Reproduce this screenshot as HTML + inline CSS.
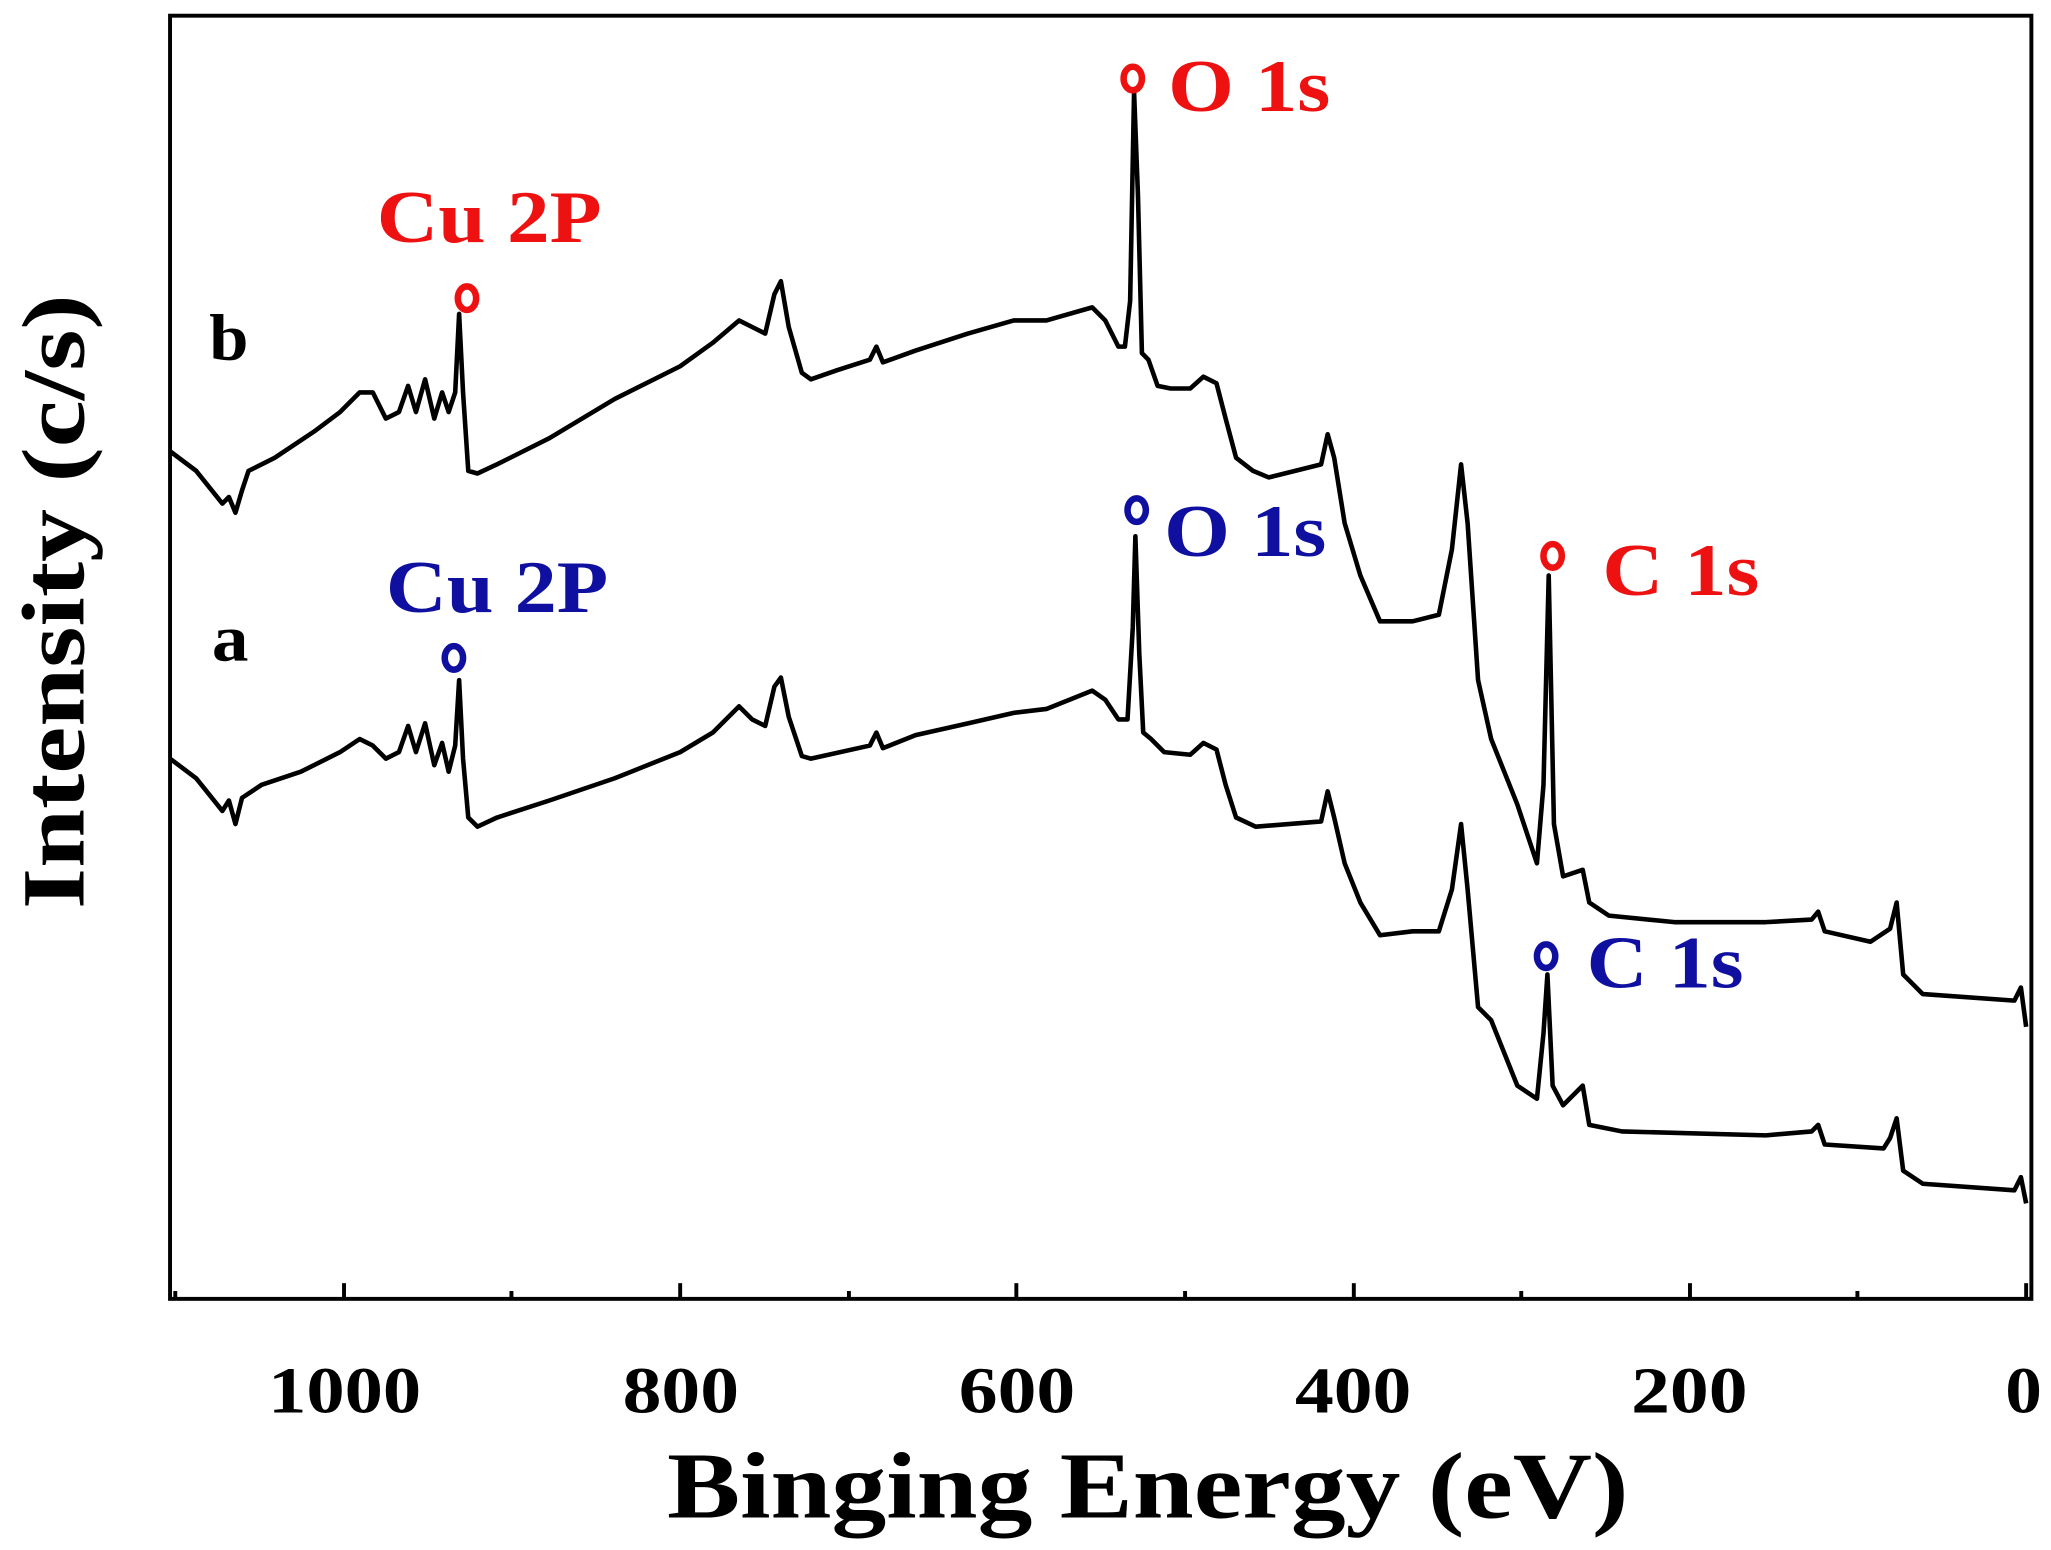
<!DOCTYPE html>
<html><head><style>html,body{margin:0;padding:0;background:#fff;}svg{display:block}</style></head>
<body>
<svg width="2051" height="1550" viewBox="0 0 1568 1185" preserveAspectRatio="none" xmlns="http://www.w3.org/2000/svg" font-family="'Liberation Serif',serif" font-weight="bold">
<rect x="130" y="12" width="1423" height="981" fill="none" stroke="#000" stroke-width="3"/>
<g stroke="#000" stroke-width="3">
<line x1="263" y1="993" x2="263" y2="981"/><line x1="520" y1="993" x2="520" y2="981"/><line x1="777" y1="993" x2="777" y2="981"/><line x1="1035" y1="993" x2="1035" y2="981"/><line x1="1292" y1="993" x2="1292" y2="981"/><line x1="1549" y1="993" x2="1549" y2="981"/>
<line x1="134" y1="993" x2="134" y2="987"/><line x1="391" y1="993" x2="391" y2="987"/><line x1="649" y1="993" x2="649" y2="987"/><line x1="906" y1="993" x2="906" y2="987"/><line x1="1163" y1="993" x2="1163" y2="987"/><line x1="1420" y1="993" x2="1420" y2="987"/>
</g>
<g font-size="50" fill="#000">
<text x="205" y="1080" textLength="117" lengthAdjust="spacingAndGlyphs">1000</text>
<text x="476" y="1080" textLength="89" lengthAdjust="spacingAndGlyphs">800</text>
<text x="733" y="1080" textLength="89" lengthAdjust="spacingAndGlyphs">600</text>
<text x="990" y="1080" textLength="89" lengthAdjust="spacingAndGlyphs">400</text>
<text x="1247" y="1080" textLength="89" lengthAdjust="spacingAndGlyphs">200</text>
<text x="1533" y="1080" textLength="28" lengthAdjust="spacingAndGlyphs">0</text>
</g>
<text x="510" y="1160" font-size="72" textLength="735" lengthAdjust="spacingAndGlyphs">Binging Energy (eV)</text>
<text transform="translate(64,695) rotate(-90)" font-size="68" textLength="470" lengthAdjust="spacingAndGlyphs">Intensity (c/s)</text>
<g fill="none" stroke="#000" stroke-width="3.5" stroke-linejoin="round">
<polyline points="130,345 150,360 170,385 175,380 180,392 185,375 190,360 210,350 240,330 260,315 275,300 285,300 295,320 305,315 312,295 318,315 325,290 332,320 338,300 343,315 348,300 351,240 354,300 358,360 365,362 380,355 420,335 470,305 520,280 545,262 565,245 575,250 585,255 592,225 597,215 603,250 613,285 620,290 640,283 665,275 670,265 675,277 700,268 740,255 775,245 800,245 835,235 845,245 855,265 860,265 864,230 867,70 870,150 873,270 878,275 885,295 895,297 910,297 920,288 930,293 937,320 945,350 958,360 970,365 1010,355 1015,332 1020,350 1028,400 1040,440 1055,475 1080,475 1100,470 1110,420 1117,355 1122,400 1130,520 1140,565 1148,585 1160,615 1175,660 1180,600 1184,440 1188,630 1195,670 1210,665 1215,690 1230,700 1280,705 1350,705 1385,703 1390,697 1395,712 1430,720 1445,710 1450,690 1455,745 1470,760 1540,765 1545,755 1549,785"/>
<polyline points="130,580 150,595 170,620 175,612 180,630 185,610 200,600 230,590 260,575 275,565 285,570 295,580 305,575 312,555 318,575 325,553 332,585 338,568 343,590 348,570 351,520 354,580 358,625 365,632 380,625 420,612 470,595 520,575 545,560 565,540 575,550 585,555 592,525 597,518 603,548 613,578 620,580 665,570 670,560 675,572 700,562 740,553 775,545 800,542 835,528 845,535 855,550 862,550 866,480 868,410 871,500 874,560 880,565 890,575 910,577 920,568 930,573 937,600 945,625 960,632 1010,628 1015,605 1020,625 1028,660 1040,690 1055,715 1080,712 1100,712 1110,680 1117,630 1122,680 1130,770 1140,780 1148,800 1160,830 1175,840 1180,790 1183,745 1187,830 1195,845 1210,830 1215,860 1240,865 1350,868 1385,865 1390,860 1395,875 1440,878 1445,870 1450,855 1455,895 1470,905 1540,910 1545,900 1549,920"/>
</g>
<text x="160" y="275" font-size="50" textLength="30" lengthAdjust="spacingAndGlyphs">b</text>
<text x="162" y="505" font-size="50" textLength="28" lengthAdjust="spacingAndGlyphs">a</text>
<g fill="#ee1111" font-size="57">
<text x="288" y="185" textLength="172" lengthAdjust="spacingAndGlyphs">Cu 2P</text>
<text x="893" y="85" textLength="124" lengthAdjust="spacingAndGlyphs">O 1s</text>
<text x="1225" y="455" textLength="120" lengthAdjust="spacingAndGlyphs">C 1s</text>
</g>
<g fill="none" stroke="#ee1111" stroke-width="5">
<ellipse cx="357" cy="228" rx="7" ry="9"/><ellipse cx="866" cy="60" rx="7" ry="9"/><ellipse cx="1187" cy="425" rx="7" ry="9"/>
</g>
<g fill="#1010a0" font-size="57">
<text x="295" y="468" textLength="170" lengthAdjust="spacingAndGlyphs">Cu 2P</text>
<text x="890" y="425" textLength="124" lengthAdjust="spacingAndGlyphs">O 1s</text>
<text x="1213" y="755" textLength="120" lengthAdjust="spacingAndGlyphs">C 1s</text>
</g>
<g fill="none" stroke="#1010a0" stroke-width="5">
<ellipse cx="347" cy="503" rx="7" ry="9"/><ellipse cx="869" cy="390" rx="7" ry="9"/><ellipse cx="1182" cy="731" rx="7" ry="9"/>
</g>
</svg>
</body></html>
